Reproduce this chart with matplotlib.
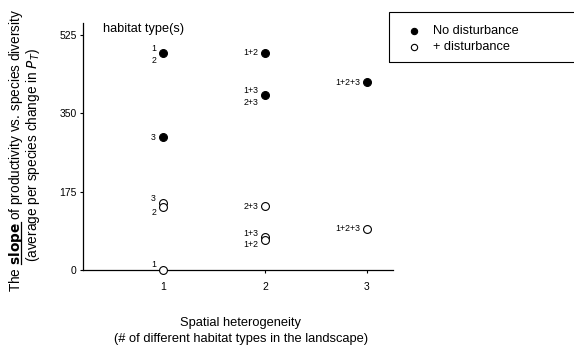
import matplotlib
matplotlib.use("Agg")
import matplotlib.pyplot as plt
from matplotlib.patches import Rectangle
from matplotlib.lines import Line2D

plt.rcParams['font.family'] = ['Liberation Sans', 'DejaVu Sans']

# ---- data ----
nodist_x = [1, 1, 2, 2, 3]
nodist_y = [485, 297, 485, 390, 420]
nodist_labels = ["1\n2", "3", "1+2", "1+3\n2+3", "1+2+3"]

dist_x = [1, 1, 1, 2, 2, 2, 3]
dist_y = [150, 140, 0, 142, 73, 67, 92]
dist_labels = ["3", "2", "1", "2+3", "1+3", "1+2", "1+2+3"]

yticks = [0, 175, 350, 525]
xticks = [1, 2, 3]

# ---- style: label offsets in points (dx, dy) ----
nodist_off = [(-5, -1), (-5, 0), (-5, 0), (-5, -1), (-5, 0)]
dist_off = [(-5, 3), (-5, -4), (-5, 4), (-5, 0), (-5, 3), (-5, -3), (-5, 0)]

W, H = 574, 350
fig = plt.figure(figsize=(W/100, H/100), dpi=100)
ax = fig.add_axes([83/W, 1-270/H, (393-83)/W, (270-23)/H])

ax.scatter(nodist_x, nodist_y, s=32, c='black', edgecolors='black', linewidths=0.8,
           zorder=3, clip_on=False, label='No disturbance')
ax.scatter(dist_x, dist_y, s=32, c='white', edgecolors='black', linewidths=0.8,
           zorder=3, clip_on=False, label='+ disturbance')

for (x, y, t), (dx, dy) in zip(zip(nodist_x, nodist_y, nodist_labels), nodist_off):
    ax.annotate(t, (x, y), xytext=(dx, dy), textcoords='offset points',
                ha='right', va='center', fontsize=6.3, linespacing=1.4)
for (x, y, t), (dx, dy) in zip(zip(dist_x, dist_y, dist_labels), dist_off):
    ax.annotate(t, (x, y), xytext=(dx, dy), textcoords='offset points',
                ha='right', va='center', fontsize=6.3)

ax.set_xlim(0.216, 3.255)
ax.set_ylim(0, 552)
ax.set_xticks(xticks)
ax.set_yticks(yticks)
ax.tick_params(axis='both', labelsize=7.5, length=2.5, width=0.8)
ax.tick_params(axis='x', pad=6)
ax.tick_params(axis='y', pad=2)
for s in ['top', 'right']:
    ax.spines[s].set_visible(False)
for s in ['left', 'bottom']:
    ax.spines[s].set_linewidth(0.9)

ax.text(0.065, 0.975, "habitat type(s)", transform=ax.transAxes, fontsize=9.2,
        ha='left', va='center')

fig.text(241/W, 1-323/H, "Spatial heterogeneity", fontsize=9.3, ha='center', va='center')
fig.text(241/W, 1-339/H, "(# of different habitat types in the landscape)",
         fontsize=9.3, ha='center', va='center')

# y label built as text pieces so "slope" can be underlined
fs = 9.8
line1 = r"The $\mathbf{slope}$ of productivity vs. species diversity"
line2 = r"(average per species change in $P_T$)"
t1 = fig.text(16/W, 1-150/H, line1, rotation=90, ha='center', va='center', fontsize=fs)
t2 = fig.text(33/W, 1-155/H, line2, rotation=90, ha='center', va='center', fontsize=fs)

fig.canvas.draw()
r = fig.canvas.get_renderer()
tmp_full = fig.text(0, 0, line1, fontsize=fs)
tmp_a = fig.text(0, 0, "The ", fontsize=fs)
tmp_b = fig.text(0, 0, r"The $\mathbf{slope}$", fontsize=fs)
ef = tmp_full.get_window_extent(r)
wf = ef.width
descent = -ef.y0
wa = tmp_a.get_window_extent(r).width
wb = tmp_b.get_window_extent(r).width
for t in (tmp_full, tmp_a, tmp_b):
    t.remove()
bb = t1.get_window_extent(r)
ybot = bb.y0 + (bb.height - wf) / 2
xline = bb.x1 - descent + 1.2
fig.add_artist(Line2D([xline/W, xline/W], [(ybot + wa + 0.5)/H, (ybot + wb)/H],
                      transform=fig.transFigure, color='black', lw=0.9))

# legend box (extends past right edge as in the original)
fig.add_artist(Rectangle((389/W, 1-62/H), 0.5, 50/H, transform=fig.transFigure,
                         fill=False, edgecolor='black', lw=0.8))
fig.legend(loc='upper left', bbox_to_anchor=(397/W, 1-16/H), frameon=False,
           fontsize=9.2, handletextpad=0.9, labelspacing=0.35, borderpad=0.2,
           handlelength=1.2, markerscale=0.8)

fig.savefig("out.png", dpi=100)
